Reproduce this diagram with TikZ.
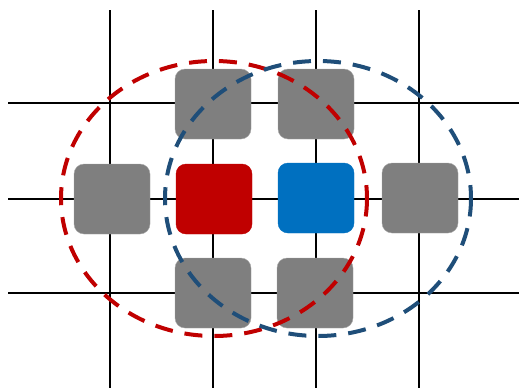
\documentclass[tikz,border=0pt]{standalone}
\definecolor{cellgray}{HTML}{7F7F7F}
\definecolor{cellred}{HTML}{C00000}
\definecolor{cellblue}{HTML}{0070C0}
\definecolor{ringred}{HTML}{C00000}
\definecolor{ringblue}{HTML}{1F4E79}
\begin{document}
\begin{tikzpicture}[x=1pt, y=-1pt,
    every node/.style={rectangle, rounded corners=10pt, minimum width=76pt, minimum height=70pt, inner sep=0pt, fill=cellgray, draw=gray!70},
    ring/.style={line width=4pt, dash pattern=on 18pt off 12pt}]
        \useasboundingbox (0,0) rectangle (519,388);
        \foreach \x in {110,213,316,419}
            \draw[line width=2pt] (\x,10) -- (\x,388);
        \foreach \y in {103,199,293}
            \draw[line width=2pt] (8,\y) -- (519,\y);
        \node (n) at (213,104) {};
        \node (ne) at (316,104) {};
        \node (w) at (112,199) {};
        \node[fill=cellred, draw=cellred] (red) at (214,199) {};
        \node[fill=cellblue, draw=cellblue] (blue) at (316,198) {};
        \node (e) at (420,198) {};
        \node (s) at (213,293) {};
        \node (se) at (315,293) {};
        \draw[ring, ringred] (214,198.5) ellipse [x radius=153, y radius=137.5];
        \draw[ring, ringblue] (318,198.5) ellipse [x radius=153, y radius=137.5];
    \end{tikzpicture}
\end{document}
